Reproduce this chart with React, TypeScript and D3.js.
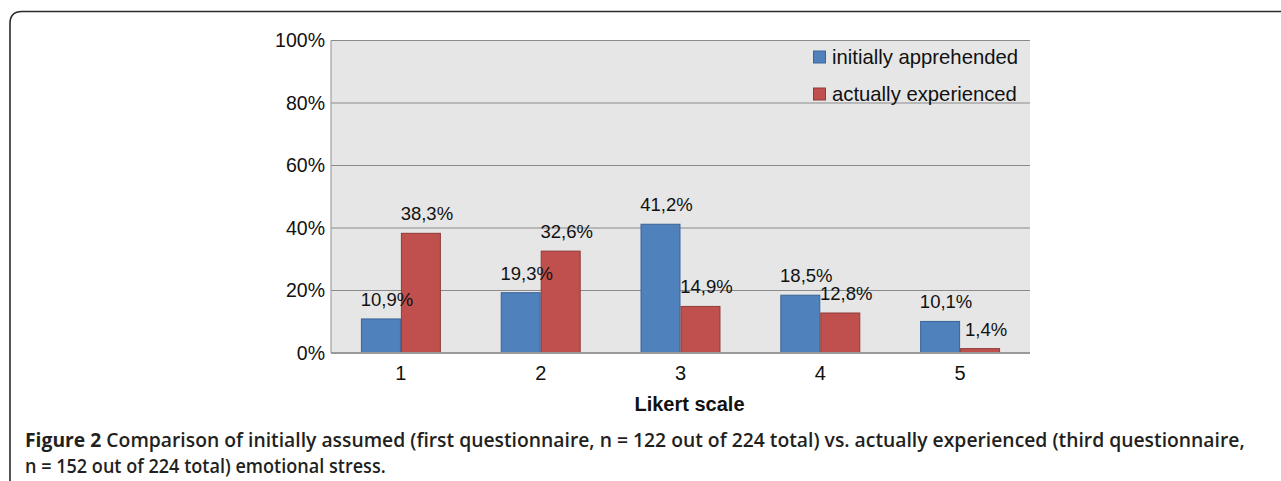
import React, { useLayoutEffect, useRef, useState } from "react";
import * as d3 from "d3";

// data
const categories = ["1", "2", "3", "4", "5"];
const seriesNames = ["initially apprehended", "actually experienced"];
const apprehended = [10.9, 19.3, 41.2, 18.5, 10.1];
const experienced = [38.3, 32.6, 14.9, 12.8, 1.4];
const yTicks = [0, 20, 40, 60, 80, 100];

const colors = ["#4f81bd", "#c0504d"];
const strokes = ["#3a6496", "#8e3b38"];

const W = 1281;
const H = 481;
const margin = { top: 40.5, right: 251, bottom: 128, left: 331 };

const font = "'Liberation Sans', Arial, Helvetica, sans-serif";
const captionFont = "'Open Sans', 'Noto Sans', sans-serif";

// caption line squeezed horizontally to the width it has in the figure
function CaptionLine({ x, y, width, children }: any) {
  const ref = useRef<SVGTextElement>(null);
  const [k, setK] = useState(1);
  useLayoutEffect(() => {
    if (ref.current) {
      const natural = ref.current.getComputedTextLength();
      if (natural > 0) setK(width / natural);
    }
  }, [width]);
  return (
    <g transform={`translate(${x},${y}) scale(${k},1)`}>
      <text ref={ref} fontFamily={captionFont} fontSize={20} fontWeight={600} fill="#231f20">
        {children}
      </text>
    </g>
  );
}

export default function App() {
  const w = W - margin.left - margin.right;
  const h = H - margin.top - margin.bottom;

  const x = d3.scaleBand().domain(categories).range([0, w]).padding(0);
  const bw = x.bandwidth();
  const groupW = bw * 0.572;
  const xInner = d3.scaleBand().domain(seriesNames).range([0, groupW]);
  const y = d3.scaleLinear().domain([0, 100]).range([h, 0]);

  const values = [apprehended, experienced];
  const fmt = (v: number) => v.toFixed(1).replace(".", ",") + "%";

  // one entry per bar
  const bars = seriesNames.flatMap((s, j) =>
    categories.map((c, i) => ({
      key: s + c,
      j,
      v: values[j][i],
      bx: (x(c) as number) + (bw - groupW) / 2 + (xInner(s) as number),
    }))
  );
  const bwi = xInner.bandwidth();

  return (
    <svg
      width={W}
      height={H}
      style={{ position: "absolute", left: 0, top: 0, background: "#fff" }}
    >
      {/* frame */}
      <path
        d="M 10 600 L 10 23.5 Q 10 11.5 22 11.5 L 1300 11.5"
        fill="none"
        stroke="#2b2b2b"
        strokeWidth={1.6}
      />
      <g transform={`translate(${margin.left},${margin.top})`}>
        <rect x={0} y={0} width={w} height={h} fill="#e6e6e6" />
        {yTicks.map((t) => (
          <g key={t}>
            {t > 0 && (
              <line x1={0} x2={w} y1={y(t)} y2={y(t)} stroke="#8a8a8a" strokeWidth={1} />
            )}
            <text
              x={-6}
              y={y(t)}
              dy="0.35em"
              textAnchor="end"
              fontFamily={font}
              fontSize={19.5}
              fill="#111"
            >
              {t}%
            </text>
          </g>
        ))}
        <line x1={0} x2={0} y1={0} y2={h} stroke="#a0a0a0" strokeWidth={1.2} />

        {bars.map((b) => (
          <rect
            key={b.key}
            x={b.bx + 0.5}
            y={y(b.v)}
            width={bwi - 1}
            height={h - y(b.v)}
            fill={colors[b.j]}
            stroke={strokes[b.j]}
            strokeWidth={1}
          />
        ))}
        <line x1={0} x2={w} y1={h} y2={h} stroke="#9a9a9a" strokeWidth={2} />

        {bars.map((b) => (
          <text
            key={"t" + b.key}
            x={b.bx + bwi / 2 + 6}
            y={y(b.v) - 13}
            textAnchor="middle"
            fontFamily={font}
            fontSize={18.5}
            fill="#111"
          >
            {fmt(b.v)}
          </text>
        ))}

        {categories.map((c) => (
          <text
            key={c}
            x={(x(c) as number) + bw / 2}
            y={h + 27}
            textAnchor="middle"
            fontFamily={font}
            fontSize={20}
            fill="#111"
          >
            {c}
          </text>
        ))}

        {/* legend */}
        {seriesNames.map((s, j) => (
          <g key={s} transform={`translate(${813 - margin.left},${50.5 - margin.top + j * 37})`}>
            <rect x={0.5} y={0.5} width={12} height={12} fill={colors[j]} stroke={strokes[j]} />
            <text x={19} y={13.5} fontFamily={font} fontSize={20.3} fill="#111">
              {s}
            </text>
          </g>
        ))}

        <text
          x={w / 2 + 9}
          y={h + 58}
          textAnchor="middle"
          fontFamily={font}
          fontSize={20}
          fontWeight="bold"
          fill="#111"
        >
          Likert scale
        </text>
      </g>

      {/* caption */}
      <CaptionLine x={25} y={447} width={1220}>
        <tspan fontWeight="bold">Figure 2</tspan>
        <tspan> Comparison of initially assumed (first questionnaire, n = 122 out of 224 total) vs. actually experienced (third questionnaire,</tspan>
      </CaptionLine>
      <CaptionLine x={25} y={473} width={361}>
        n = 152 out of 224 total) emotional stress.
      </CaptionLine>
    </svg>
  );
}
